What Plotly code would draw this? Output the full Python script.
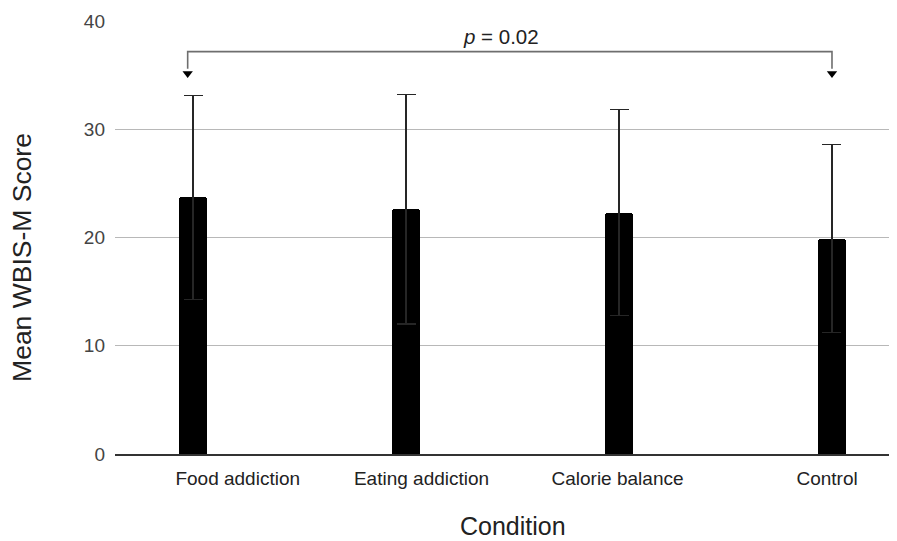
import plotly.graph_objects as go

categories = ["Food addiction", "Eating addiction", "Calorie balance", "Control"]
mean_scores = [23.7, 22.6, 22.3, 19.9]
sd_scores = [9.4, 10.6, 9.5, 8.7]
y_ticks = [0, 10, 20, 30, 40]
p_label = "<i>p</i> = 0.02"

FONT = "Liberation Sans, Arial, Helvetica, sans-serif"

x_idx = list(range(len(categories)))
label_pos = [0.21, 1.073, 1.993, 2.977]

fig = go.Figure()
fig.add_trace(go.Bar(
    x=x_idx, y=mean_scores, width=0.132,
    marker=dict(color="black", line=dict(width=0), cornerradius=3),
    error_y=dict(type="data", array=sd_scores, visible=True,
                 color="#262626", thickness=1.4, width=9.5),
    showlegend=False,
))

# significance bracket
xl, xr = -0.025, 3.0
ytop, ybot = 37.17, 35.6
fig.add_shape(type="path",
              path=f"M {xl} {ybot} L {xl} {ytop} L {xr} {ytop} L {xr} {ybot}",
              line=dict(color="#6e6e6e", width=1.6), xref="x", yref="y")
fig.add_trace(go.Scatter(
    x=[xl, xr], y=[35.15, 35.15], mode="markers",
    marker=dict(symbol="triangle-down", size=9, color="black"),
    showlegend=False, hoverinfo="skip",
))

fig.add_annotation(x=(xl + xr) / 2 - 0.04, y=38.6, xref="x", yref="y",
                   text=p_label, showarrow=False,
                   font=dict(family=FONT, size=20.5, color="#222"),
                   xanchor="center", yanchor="middle")

fig.add_annotation(x=-0.119, y=0.455, xref="paper", yref="paper",
                   text="Mean WBIS-M Score", textangle=-90, showarrow=False,
                   font=dict(family=FONT, size=26.5, color="#222"),
                   xanchor="center", yanchor="middle")
fig.add_annotation(x=0.509, y=-0.166, xref="paper", yref="paper",
                   text="Condition", showarrow=False,
                   font=dict(family=FONT, size=25, color="#222"),
                   xanchor="center", yanchor="middle")

fig.update_layout(
    width=889, height=533,
    margin=dict(l=107, r=0, t=13, b=87),
    paper_bgcolor="white", plot_bgcolor="white",
    font=dict(family=FONT),
    bargap=0,
)
fig.update_xaxes(
    range=[-0.3662, 3.3052], tickmode="array",
    tickvals=label_pos, ticktext=categories,
    tickfont=dict(family=FONT, size=19, color="#222"),
    showgrid=False, zeroline=False, showline=True,
    linecolor="#333", linewidth=1.6, ticks="", ticklabelstandoff=6,
)
fig.update_yaxes(
    range=[0, 40], tickmode="array", tickvals=y_ticks,
    tickfont=dict(family=FONT, size=19, color="#444"),
    showgrid=True, gridcolor="#b8b8b8", gridwidth=1.4,
    zeroline=False, showline=False, ticks="", ticklabelstandoff=9,
)

fig.write_html("out.html")
